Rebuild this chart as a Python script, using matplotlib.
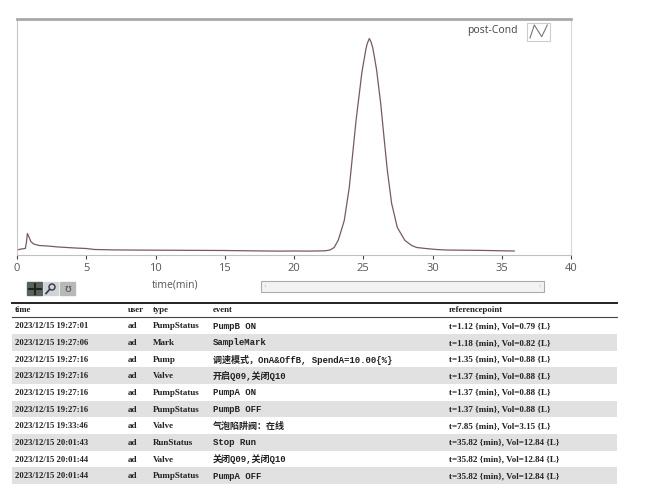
import numpy as np
import matplotlib.pyplot as plt
from matplotlib.patches import Rectangle, Circle

# chromatogram (time in min, signal in arbitrary units)
time_min = [0, 0.3, 0.6, 0.68, 0.75, 0.85, 1.0, 1.2, 1.6, 2.2, 3.0, 3.6, 4.2, 5.0, 5.6, 7, 9, 12, 15,
            18, 19, 20, 21, 22, 22.3, 22.6, 22.9, 23.2, 23.63, 23.99, 24.24, 24.48, 24.77, 24.9, 25.05,
            25.2, 25.29, 25.44, 25.55, 25.68, 25.8, 25.97, 26.1, 26.26, 26.5, 26.74, 27.05, 27.46,
            28.01, 28.5, 28.86, 29.5, 30.3, 31, 32, 33, 34, 35, 35.9]
signal = [0.5, 1.5, 2, 8, 17, 14, 9, 6.5, 5, 4.5, 3.5, 3, 2.5, 2, 1, 0.6, 0.4, 0.2, 0,
          -0.5, -0.6, -0.5, -0.6, -0.4, -0.2, 0.5, 3, 10.5, 30, 63, 97, 130, 163, 178, 190,
          202, 207, 212, 209, 203, 194, 180, 165, 147, 113, 80, 47, 23,
          10, 5, 3, 2, 1, 0.5, 0.3, 0.2, 0, -0.3, -0.5]

# event log table
log_time = ["2023/12/15 19:27:01", "2023/12/15 19:27:06", "2023/12/15 19:27:16", "2023/12/15 19:27:16",
            "2023/12/15 19:27:16", "2023/12/15 19:27:16", "2023/12/15 19:33:46", "2023/12/15 20:01:43",
            "2023/12/15 20:01:44", "2023/12/15 20:01:44"]
log_user = ["ad"] * 10
log_type = ["PumpStatus", "Mark", "Pump", "Valve", "PumpStatus", "PumpStatus", "Valve", "RunStatus",
            "Valve", "PumpStatus"]
log_event = ["PumpB ON", "SampleMark", "调速模式，OnA&OffB, SpendA=10.00{%}", "开启Q09,关闭Q10",
             "PumpA ON", "PumpB OFF", "气泡陷阱阀：在线", "Stop Run", "关闭Q09,关闭Q10", "PumpA OFF"]
log_ref = ["t=1.12 {min}, Vol=0.79 {L}", "t=1.18 {min}, Vol=0.82 {L}", "t=1.35 {min}, Vol=0.88 {L}",
           "t=1.37 {min}, Vol=0.88 {L}", "t=1.37 {min}, Vol=0.88 {L}", "t=1.37 {min}, Vol=0.88 {L}",
           "t=7.85 {min}, Vol=3.15 {L}", "t=35.82 {min}, Vol=12.84 {L}", "t=35.82 {min}, Vol=12.84 {L}",
           "t=35.82 {min}, Vol=12.84 {L}"]
headers = ["time", "user", "type", "event", "referencepoint"]

W, H = 647, 493
fig = plt.figure(figsize=(W / 100, H / 100), dpi=100)

# chart area in pixels: x 17..571, y 19..255
ax = fig.add_axes([17 / W, 1 - 255 / H, (571 - 17) / W, (255 - 19) / H])
ax.plot(time_min, signal, color="#7a5860", lw=0.9)
ax.set_xlim(0, 40)
ax.set_ylim(-4.5, 231.5)
ax.set_xticks(range(0, 41, 5))
ax.set_yticks([])
ax.tick_params(axis="x", direction="out", length=3, width=0.8, color="#444", labelsize=8,
               labelcolor="#555", pad=3)
for lab in ax.get_xticklabels():
    lab.set_family("Open Sans")
ax.spines["top"].set_color("#a8a8a8")
ax.spines["top"].set_linewidth(2)
ax.spines["right"].set_color("#d8d8d8")
ax.spines["left"].set_color("#c8c8c8")
ax.spines["bottom"].set_color("#c0c0c0")

# overlay in pixel coords for legend, toolbar, scrollbar and table
ov = fig.add_axes([0, 0, 1, 1])
ov.set_xlim(0, W)
ov.set_ylim(H, 0)
ov.axis("off")

ov.text(518, 31, "post-Cond", ha="right", va="center", fontsize=7.5, color="#444", family="Open Sans")
ov.add_patch(Rectangle((527, 23), 23, 18, fill=False, ec="#cccccc", lw=0.8))
ov.plot([530, 534.3, 541.7, 547.3], [38, 25, 36.7, 25], color="#777", lw=0.8)

ov.text(175, 285, "time(min)", ha="center", va="center", fontsize=7.5, color="#555", family="Open Sans")

# toolbar icons
ov.add_patch(Rectangle((27, 282), 15, 13, color="#56645a"))
ov.plot([34.5, 34.5], [283.5, 293.5], color="#222", lw=1.5)
ov.plot([28.5, 40.5], [288.5, 288.5], color="#222", lw=1.5)
ov.add_patch(Rectangle((44, 282), 14, 13, color="#d0d4d8"))
ov.add_patch(Circle((52, 287), 3, fill=False, ec="#334", lw=1))
ov.plot([49.5, 46], [289.5, 293.5], color="#334", lw=1.2)
ov.add_patch(Rectangle((60, 282), 15, 13, color="#b8b8b8"))
ov.text(67.5, 288.5, "ʊ", ha="center", va="center", fontsize=8, color="#555")

# scrollbar
ov.add_patch(Rectangle((261, 281), 283, 11, fc="#f2f2f2", ec="#aaaaaa", lw=0.8))
ov.text(265, 286.5, "‹", ha="center", va="center", fontsize=5, color="#bbb")
ov.text(540, 286.5, "›", ha="center", va="center", fontsize=5, color="#bbb")

# table
row_h = 16.65
top_y = 317.5
for i in range(len(log_time)):
    y0 = top_y + i * row_h
    if i % 2 == 1:
        ov.add_patch(Rectangle((12, y0), 605, row_h, color="#e1e1e1", lw=0))
ov.plot([12, 617], [302.5, 302.5], color="#222", lw=1.4)
ov.plot([12, 617], [317.3, 317.3], color="#444", lw=0.8)

col_x = [15, 128, 153, 213, 449]
serif = ["Liberation Serif", "Noto Sans CJK SC"]
mono = ["Liberation Mono", "Noto Sans CJK SC"]
for x, h in zip(col_x, headers):
    ov.text(x, 310, h, ha="left", va="center", fontsize=6.3, weight="bold", color="#222", family=serif)

for i in range(len(log_time)):
    yc = top_y + i * row_h + row_h / 2 + 0.5
    ov.text(col_x[0], yc, log_time[i], ha="left", va="center", fontsize=6.2, weight="bold", color="#222", family=serif)
    ov.text(col_x[1], yc, log_user[i], ha="left", va="center", fontsize=6.5, weight="bold", color="#222", family=serif)
    ov.text(col_x[2], yc, log_type[i], ha="left", va="center", fontsize=6.5, weight="bold", color="#222", family=serif)
    ov.text(col_x[3], yc, log_event[i], ha="left", va="center", fontsize=6.5, weight="bold", color="#222", family=mono)
    ov.text(col_x[4], yc, log_ref[i], ha="left", va="center", fontsize=6.5, weight="bold", color="#222", family=serif)

fig.savefig("out.png", dpi=100)
